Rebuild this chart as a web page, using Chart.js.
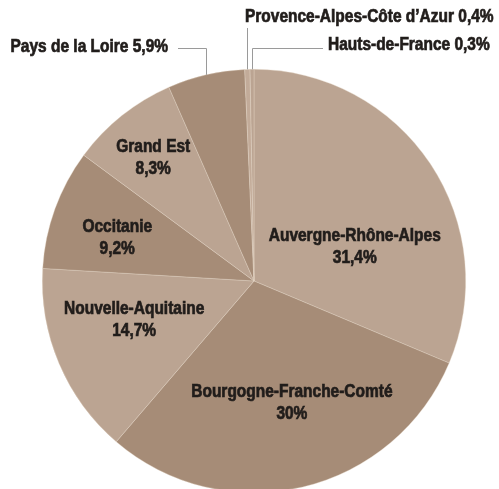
<!DOCTYPE html>
<html lang="fr">
<head>
  <meta charset="UTF-8">
  <title>Répartition par région</title>
  <script src="https://cdn.jsdelivr.net/npm/chart.js"></script>
  <style>
    body {
      margin: 0;
      background: #fff;
      overflow: hidden;
    }
  </style>
</head>
<body>
  <canvas id="pie" width="499" height="500"></canvas>

  <script>
    const regions = ['Auvergne-Rhône-Alpes', 'Bourgogne-Franche-Comté', 'Nouvelle-Aquitaine', 'Occitanie',
      'Grand Est', 'Pays de la Loire', 'Provence-Alpes-Côte d’Azur', 'Hauts-de-France'];
    const shares = [31.4, 30, 14.7, 9.2, 8.3, 5.9, 0.4, 0.3];
    const shareLabels = ['31,4%', '30%', '14,7%', '9,2%', '8,3%', '5,9%', '0,4%', '0,3%'];

    const light = '#bba492';
    const dark = '#a68c77';
    const colors = [light, dark, light, dark, light, dark, '#c2ab99', light];

    const FONT = 'bold 18px "Liberation Sans", Arial, sans-serif';
    const SQUEEZE = 0.86; // fake a condensed face
    const INK = '#211d1b';

    // inside labels: offset from centre, in units of radius
    const inside = {
      0: [0.476, -0.16],
      1: [0.179, 0.575],
      2: [-0.566, 0.184],
      3: [-0.646, -0.203],
      4: [-0.476, -0.58]
    };

    function narrowText(ctx, text, x, y, align) {
      const w = ctx.measureText(text).width * SQUEEZE;
      let left = x;
      if (align === 'center') left = x - w / 2;
      if (align === 'right') left = x - w;
      ctx.save();
      ctx.translate(left, y);
      ctx.scale(SQUEEZE, 1);
      ctx.textAlign = 'left';
      ctx.fillText(text, 0, 0);
      ctx.strokeStyle = INK;
      ctx.lineWidth = 0.7;
      ctx.strokeText(text, 0, 0);
      ctx.restore();
    }

    const labelPlugin = {
      id: 'regionLabels',
      afterDatasetsDraw(chart) {
        const ctx = chart.ctx;
        const arcs = chart.getDatasetMeta(0).data;
        ctx.save();
        ctx.font = FONT;
        ctx.fillStyle = INK;
        ctx.textBaseline = 'middle';
        ctx.strokeStyle = '#9a9a9a';
        ctx.lineWidth = 1;

        arcs.forEach((arc, i) => {
          const cx = arc.x, cy = arc.y, r = arc.outerRadius;
          if (inside[i]) {
            const [fx, fy] = inside[i];
            narrowText(ctx, regions[i], cx + fx * r, cy + fy * r - 11, 'center');
            narrowText(ctx, shareLabels[i], cx + fx * r, cy + fy * r + 11, 'center');
            return;
          }
          const mid = (arc.startAngle + arc.endAngle) / 2;
          const ex = Math.round(cx + Math.cos(mid) * r) + 0.5;
          const ey = cy + Math.sin(mid) * r;
          const text = regions[i] + ' ' + shareLabels[i];
          ctx.beginPath();
          if (i === 5) {
            ctx.moveTo(ex, ey);
            ctx.lineTo(ex, 48.5);
            ctx.lineTo(178, 48.5);
            ctx.stroke();
            narrowText(ctx, text, 168, 47, 'right');
          } else if (i === 6) {
            ctx.moveTo(ex, ey);
            ctx.lineTo(ex, 28);
            ctx.stroke();
            narrowText(ctx, text, 245, 17, 'left');
          } else {
            ctx.moveTo(ex, ey);
            ctx.lineTo(ex, 48.5);
            ctx.lineTo(323, 48.5);
            ctx.stroke();
            narrowText(ctx, text, 328, 45, 'left');
          }
        });
        ctx.restore();
      }
    };

    new Chart(document.getElementById('pie'), {
      type: 'pie',
      data: {
        labels: regions,
        datasets: [{
          data: shares,
          backgroundColor: colors,
          borderColor: 'rgba(230, 215, 200, 0.6)',
          borderWidth: 0.6
        }]
      },
      options: {
        responsive: false,
        animation: false,
        layout: { padding: { left: 42, right: 33, top: 69, bottom: 7 } },
        plugins: {
          legend: { display: false },
          tooltip: { enabled: false }
        }
      },
      plugins: [labelPlugin]
    });
  </script>
</body>
</html>
